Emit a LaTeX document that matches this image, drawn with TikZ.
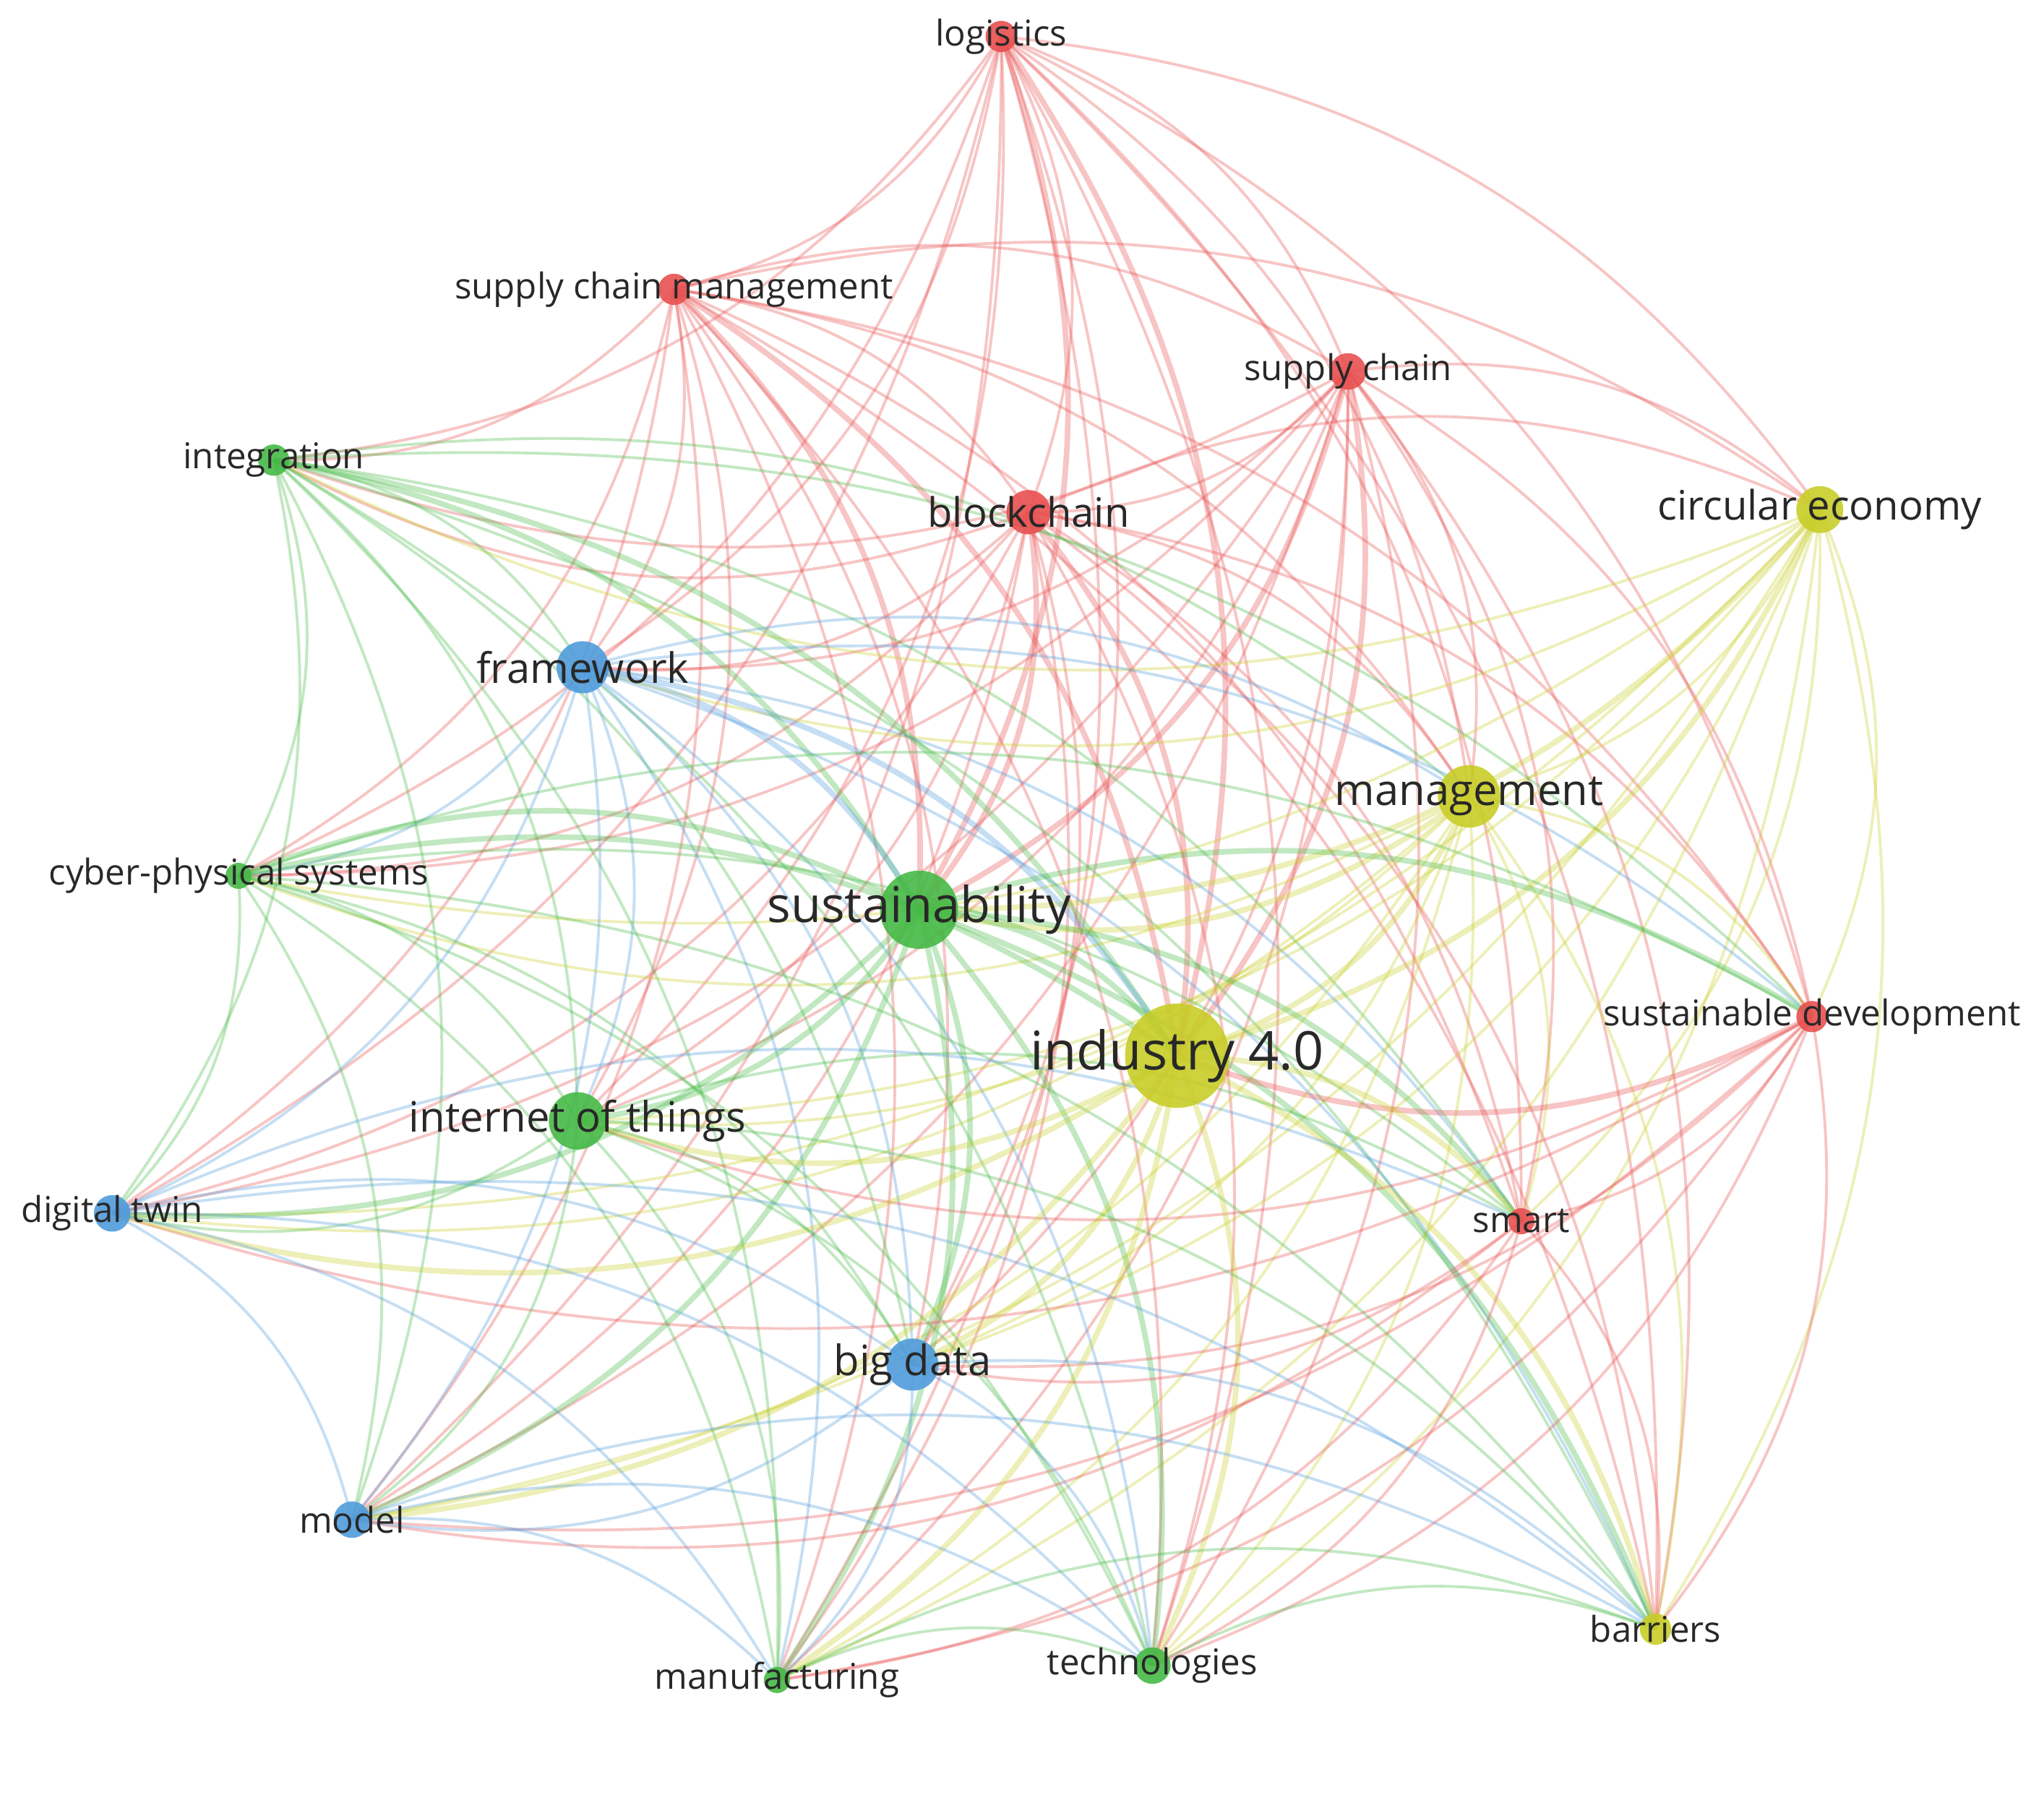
\documentclass[tikz,border=0pt]{standalone}
\usepackage{fontspec}
\setmainfont{Open Sans}
\usetikzlibrary{backgrounds}
\definecolor{cr}{RGB}{232,80,80}
\definecolor{cg}{RGB}{70,185,70}
\definecolor{cb}{RGB}{80,155,220}
\definecolor{cy}{RGB}{200,205,40}
\definecolor{tx}{RGB}{40,40,40}
\tikzset{dot/.style={circle,inner sep=0pt,fill opacity=0.9},
 lab/.style={text=tx,inner sep=0pt},
 edge/.style={line width=1.1pt,draw opacity=0.33}}
\begin{document}
\begin{tikzpicture}[x=0.018036cm,y=-0.018036cm]
\useasboundingbox (0,0) rectangle (1568,1387);
\foreach \i/\x/\y/\r/\c/\t/\s in {
1/768/28/12/cr/logistics/14,
2/517/222/12/cr/supply chain management/14,
3/1034/285/14/cr/supply chain/14,
4/789/393/17/cr/blockchain/16,
5/1396/391/18/cy/circular economy/16,
6/210/353/12/cg/integration/14,
7/447/512/20/cb/framework/16.5,
8/1127/611/24/cy/management/17,
9/183/672/10/cg/cyber-physical systems/14,
10/705/698/30/cg/sustainability/19.5,
11/1390/780/12/cr/sustainable development/14,
12/903/810/40/cy/industry 4.0/21,
13/443/860/22/cg/internet of things/16.5,
14/86/931/14/cb/digital twin/14,
15/1167/937/10/cr/smart/14,
16/700/1047/20/cb/big data/16.5,
17/270/1166/14/cb/model/14,
18/596/1289/10/cg/manufacturing/14,
19/884/1278/14/cg/technologies/14,
20/1270/1250/12/cy/barriers/14}
{ \node[dot,fill=\c,minimum size=2*\r*0.018036cm] (n\i) at (\x,\y) {};
  \expandafter\xdef\csname col\i\endcsname{\c}
  \node[lab,font=\fontsize{\s pt}{\s pt}\selectfont] (l\i) at (\x,\y) {\t};}
\begin{pgfonlayer}{background}
\foreach \i in {1,...,20}{
 \foreach \j in {\i,...,20}{
  \ifnum\j>\i
   \pgfmathtruncatemacro{\w}{(\i==10||\i==12||\j==10||\j==12)?1:0}
   \ifnum\w=1
    \draw[edge,line width=2.2pt,draw=\csname col\i\endcsname] (n\i.center) to[bend left=24] (n\j.center);
   \else
    \draw[edge,draw=\csname col\i\endcsname] (n\i.center) to[bend left=24] (n\j.center);
   \fi
  \fi}}
\end{pgfonlayer}
\end{tikzpicture}
\end{document}
